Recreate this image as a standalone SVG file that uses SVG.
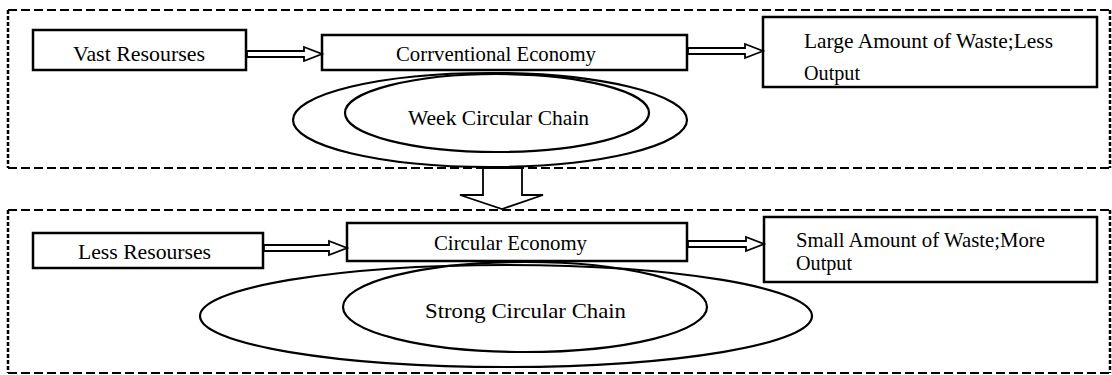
<svg xmlns="http://www.w3.org/2000/svg" width="1112" height="375" viewBox="0 0 1112 375">
<style>
.dh{stroke:#000;stroke-width:2;stroke-dasharray:9 4;fill:none}
.dv{stroke:#000;stroke-width:2.5;stroke-dasharray:4 2;fill:none}
.box{fill:#fff;stroke:#000;stroke-width:2.5}
.ell{fill:none;stroke:#000;stroke-width:2.2}
.arr{fill:#fff;stroke:#000;stroke-width:1.8;stroke-linejoin:miter}
text{font-family:"Liberation Serif","DejaVu Serif",serif;font-size:21px;fill:#000}
</style>
<rect width="1112" height="375" fill="#fff"/>
<g id="frame-top">
<line class="dh" x1="8" y1="10" x2="1110" y2="10"/>
<line class="dh" x1="8" y1="168" x2="1110" y2="168"/>
<line class="dv" x1="8" y1="10" x2="8" y2="168"/>
<line class="dv" x1="1110" y1="10" x2="1110" y2="168"/>
</g>
<g id="frame-bottom">
<line class="dh" x1="8" y1="210" x2="1110" y2="210"/>
<line class="dh" x1="8" y1="373" x2="1110" y2="373"/>
<line class="dv" x1="8" y1="210" x2="8" y2="373"/>
<line class="dv" x1="1110" y1="210" x2="1110" y2="373"/>
</g>
<g id="week-chain">
<ellipse class="ell" cx="490" cy="120" rx="197" ry="47"/>
<ellipse class="ell" cx="497" cy="113" rx="152" ry="39" stroke-width="2.6"/>
<text x="408" y="125" textLength="181" lengthAdjust="spacingAndGlyphs">Week Circular Chain</text>
</g>
<g id="strong-chain">
<ellipse class="ell" cx="506" cy="316" rx="306" ry="51"/>
<ellipse class="ell" cx="525" cy="307" rx="182" ry="45"/>
<text x="425" y="318" textLength="201" lengthAdjust="spacingAndGlyphs">Strong Circular Chain</text>
</g>
<g id="vast-resourses">
<rect class="box" x="33" y="30" width="213" height="40"/>
<text x="73" y="61" textLength="132" lengthAdjust="spacingAndGlyphs">Vast Resourses</text>
</g>
<g id="conventional-economy">
<rect class="box" x="322" y="35" width="365" height="35"/>
<text x="396" y="61" textLength="200" lengthAdjust="spacingAndGlyphs">Corrventional Economy</text>
</g>
<g id="large-waste">
<rect class="box" x="763" y="17" width="334" height="70"/>
<text x="804" y="48" textLength="249" lengthAdjust="spacingAndGlyphs">Large Amount of Waste;Less</text>
<text x="804" y="80" textLength="56" lengthAdjust="spacingAndGlyphs">Output</text>
</g>
<g id="less-resourses">
<rect class="box" x="33" y="233" width="230" height="35"/>
<text x="78" y="259" textLength="133" lengthAdjust="spacingAndGlyphs">Less Resourses</text>
</g>
<g id="circular-economy">
<rect class="box" x="347" y="223" width="340" height="38"/>
<text x="434" y="250" textLength="153" lengthAdjust="spacingAndGlyphs">Circular Economy</text>
</g>
<g id="small-waste">
<rect class="box" x="764" y="217" width="333" height="65"/>
<text x="796" y="247" textLength="249" lengthAdjust="spacingAndGlyphs">Small Amount of Waste;More</text>
<text x="796" y="270" textLength="56" lengthAdjust="spacingAndGlyphs">Output</text>
</g>
<g id="connectors">
<polygon class="arr" points="247,51 304,51 304,47 322,54 304,61 304,57 247,57"/>
<polygon class="arr" points="688,48 745,48 745,44 763,51 745,58 745,54 688,54"/>
<polygon class="arr" points="264,245 329,245 329,241 347,248 329,255 329,251 264,251"/>
<polygon class="arr" points="688,241 746,241 746,237 764,244 746,251 746,247 688,247"/>
<polygon class="arr" points="483,168 522,168 522,195 543,195 502,209 460,195 483,195"/>
</g>
</svg>
